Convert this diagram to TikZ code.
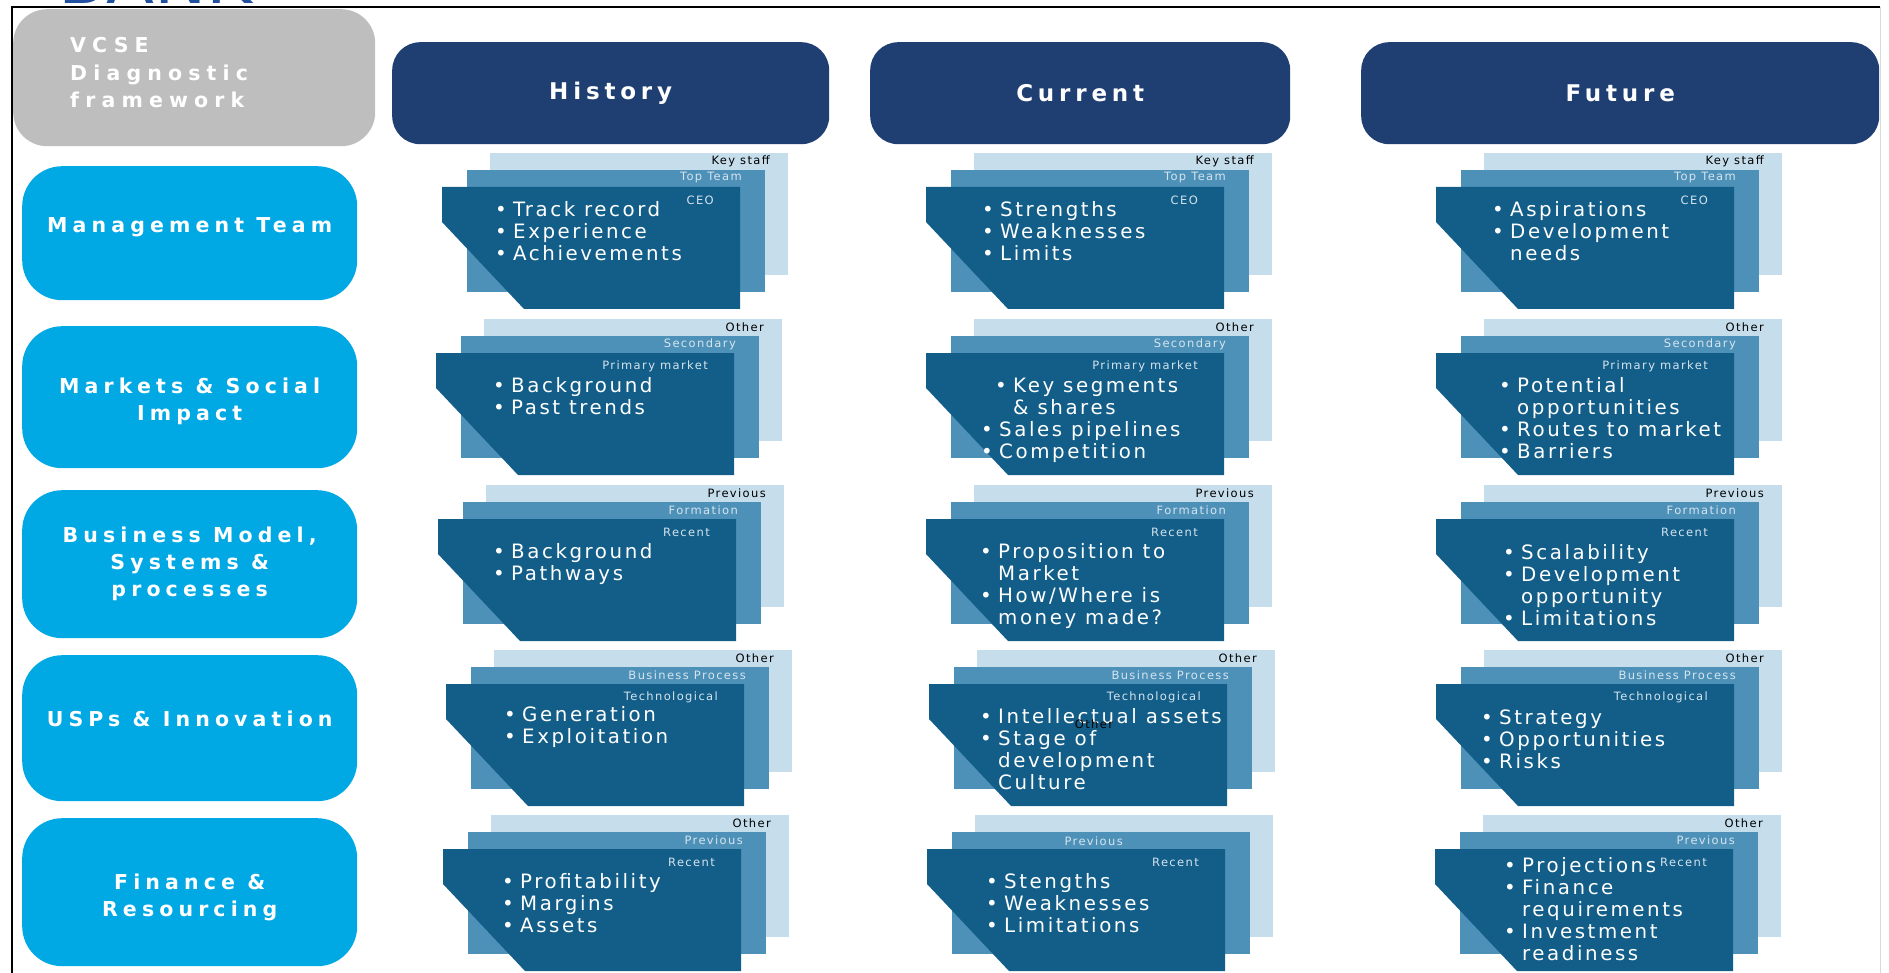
\documentclass[tikz,border=0pt]{standalone}
\usepackage{fontspec}
\setmainfont{DejaVu Sans}
\newfontfamily\cardfont[LetterSpace=13]{DejaVu Sans}
\newfontfamily\tagfont[LetterSpace=12]{DejaVu Sans}
\IfFontExistsTF{DejaVuSans-Bold.ttf}{%
  \newfontfamily\headfont[LetterSpace=21]{DejaVuSans-Bold.ttf}
  \newfontfamily\rowfont[LetterSpace=25]{DejaVuSans-Bold.ttf}
  \newfontfamily\vcsefont[LetterSpace=30]{DejaVuSans-Bold.ttf}}{%
  \newfontfamily\headfont[LetterSpace=27,FakeBold=2.5]{DejaVu Sans}
  \newfontfamily\rowfont[LetterSpace=36,FakeBold=2.5]{DejaVu Sans}
  \newfontfamily\vcsefont[LetterSpace=32,FakeBold=2.5]{DejaVu Sans}}
\usetikzlibrary{positioning}
\definecolor{boxgray}{RGB}{190,190,190}
\definecolor{headblue}{RGB}{31,62,113}
\definecolor{rowblue}{RGB}{0,168,228}
\definecolor{frontblue}{RGB}{18,94,136}
\definecolor{midblue}{RGB}{77,145,185}
\definecolor{backblue}{RGB}{198,221,235}
\definecolor{tagwhite}{RGB}{214,228,238}
\definecolor{bankblue}{RGB}{34,80,160}
\newcommand\cardlist[1]{\begin{tabular}[t]{@{}l@{}}#1\end{tabular}}
\newcommand\bl{\makebox[18pt][l]{\textbullet}}
\newcommand\cl{\hspace*{18pt}}
% raise a centred block without changing its size
\newcommand\rowlabel[2][0pt]{\raisebox{#1}[\height][\depth]{\begin{tabular}{@{}c@{}}#2\end{tabular}}}
\tikzset{
  head/.style={fill=headblue,rounded corners=28pt,text=white,anchor=north west,
    font=\headfont\fontsize{23}{26}\selectfont,minimum height=102pt},
  rowbox/.style={fill=rowblue,rounded corners=40pt,minimum width=335pt,text=white,
    anchor=north west,font=\rowfont\fontsize{20.5}{27}\selectfont},
  tag/.style={font=\tagfont\fontsize{11.5}{13}\selectfont,inner sep=0pt,anchor=east},
  cardtext/.style={font=\cardfont\fontsize{19.8}{22}\selectfont,text=white,
    inner sep=0pt,anchor=base west},
  pics/stack/.style n args={3}{code={
    \fill[backblue] (48,-34) rectangle ++(298,122);
    \fill[midblue] (25,-17) rectangle ++(298,122);
    \fill[frontblue] (0,0) -- (298,0) -- (298,122) -- (82,122) -- (0,35) -- cycle;
    \node[tag,text=black] (-back) at (328,-26) {#1};
    \node[tag,text=tagwhite] (-mid) at (300,-9) {#2};
    \node[tag,text=tagwhite] (-front) at (272,13) {#3};
  }}
}
\begin{document}
\begin{tikzpicture}[x=1pt,y=-1pt]
    \clip (0,0) rectangle (1889,973);
    \node[anchor=base west,text=bankblue,inner sep=0pt,font=\fontsize{70}{70}\selectfont] (bank) at (58,4) {BANK};
    \draw[black!15] (1880,7) -- (1880,973);
    \draw[line width=2pt] (12,973) -- (12,7) -- (1880,7);

    \node[fill=boxgray,rounded corners=34pt,anchor=north west,minimum width=362pt,minimum height=137pt,
          inner xsep=57pt,text width=248pt,align=left,text=white,
          font=\vcsefont\fontsize{20.5}{27.5}\selectfont] (vcse) at (13,9)
          {\raisebox{3pt}[\height][\depth]{\begin{tabular}{@{}l@{}}VCSE\\Diagnostic\\framework\end{tabular}}};
    \node[head,minimum width=437pt] (hist) at (392,42) {History};
    \node[head,minimum width=420pt] (curr) at (870,42) {Current};
    \node[head,minimum width=518pt] (fut) at (1361,42) {Future};

    \node[rowbox,minimum height=134pt] (mgmt) at (22,166) {\rowlabel[6pt]{Management Team}};
    \node[rowbox,minimum height=142pt] (mkts) at (22,326) {\rowlabel[-4pt]{Markets \& Social\\Impact}};
    \node[rowbox,minimum height=148pt] (bizm) at (22,490) {\rowlabel{Business Model,\\Systems \&\\processes}};
    \node[rowbox,minimum height=146pt] (usps) at (22,655) {\rowlabel[7pt]{USPs \& Innovation}};
    \node[rowbox,minimum height=148pt] (fin) at (22,818) {\rowlabel[-5pt]{Finance \&\\Resourcing}};

    % management team
    \pic (r1c1) at (442,187) {stack={Key staff}{Top Team}{CEO}};
    \pic (r1c2) at (926,187) {stack={Key staff}{Top Team}{CEO}};
    \pic (r1c3) at (1436,187) {stack={Key staff}{Top Team}{CEO}};
    \node[cardtext] (t11) at (495,217) {\cardlist{\bl Track record\\ \bl Experience\\ \bl Achievements}};
    \node[cardtext] (t12) at (982,217) {\cardlist{\bl Strengths\\ \bl Weaknesses\\ \bl Limits}};
    \node[cardtext] (t13) at (1492,217) {\cardlist{\bl Aspirations\\ \bl Development\\ \cl needs}};

    % markets
    \pic (r2c1) at (436,353) {stack={Other}{Secondary}{Primary market}};
    \pic (r2c2) at (926,353) {stack={Other}{Secondary}{Primary market}};
    \pic (r2c3) at (1436,353) {stack={Other}{Secondary}{Primary market}};
    \node[cardtext] (t21) at (493,392) {\cardlist{\bl Background\\ \bl Past trends}};
    \node[cardtext] (t22) at (981,392) {\cardlist{\hspace*{14pt}\bl Key segments\\ \hspace*{14pt}\cl \& shares\\ \bl Sales pipelines\\ \bl Competition}};
    \node[cardtext] (t23) at (1499,392) {\cardlist{\bl Potential\\ \cl opportunities\\ \bl Routes to market\\ \bl Barriers}};

    % business model
    \pic (r3c1) at (438,519) {stack={Previous}{Formation}{Recent}};
    \pic (r3c2) at (926,519) {stack={Previous}{Formation}{Recent}};
    \pic (r3c3) at (1436,519) {stack={Previous}{Formation}{Recent}};
    \node[cardtext] (t31) at (493,558) {\cardlist{\bl Background\\ \bl Pathways}};
    \node[cardtext] (t32) at (980,558) {\cardlist{\bl Proposition to\\ \cl Market\\ \bl How/Where is\\ \cl money made?}};
    \node[cardtext] (t33) at (1503,559) {\cardlist{\bl Scalability\\ \bl Development\\ \cl opportunity\\ \bl Limitations}};

    % usps
    \pic (r4c1) at (446,684) {stack={Other}{Business Process}{Technological}};
    \pic (r4c2) at (929,684) {stack={Other}{Business Process}{Technological}};
    \pic (r4c3) at (1436,684) {stack={Other}{Business Process}{Technological}};
    \node[cardtext] (t41) at (504,721) {\cardlist{\bl Generation\\ \bl Exploitation}};
    \node[cardtext] (t42) at (980,723) {\cardlist{\bl Intellectual assets\\ \bl Stage of\\ \cl development\\ \cl Culture}};
    \node[cardtext] (t43) at (1481,724) {\cardlist{\bl Strategy\\ \bl Opportunities\\ \bl Risks}};
    \node[tag,anchor=center] (r4c2-stray) at (1094,724) {Other};

    % finance
    \pic (r5c1) at (443,849) {stack={Other}{Previous}{Recent}};
    \pic (r5c2) at (927,849) {stack={}{}{Recent}};
    \pic (r5c3) at (1435,849) {stack={Other}{Previous}{Recent}};
    \node[tag,text=tagwhite] (r5c2-prev) at (1123,841) {Previous};
    \node[cardtext] (t51) at (502,888) {\cardlist{\bl Profitability\\ \bl Margins\\ \bl Assets}};
    \node[cardtext] (t52) at (986,888) {\cardlist{\bl Stengths\\ \bl Weaknesses\\ \bl Limitations}};
    \node[cardtext] (t53) at (1504,872) {\cardlist{\bl Projections\\ \bl Finance\\ \cl requirements\\ \bl Investment\\ \cl readiness}};
\end{tikzpicture}
\end{document}
